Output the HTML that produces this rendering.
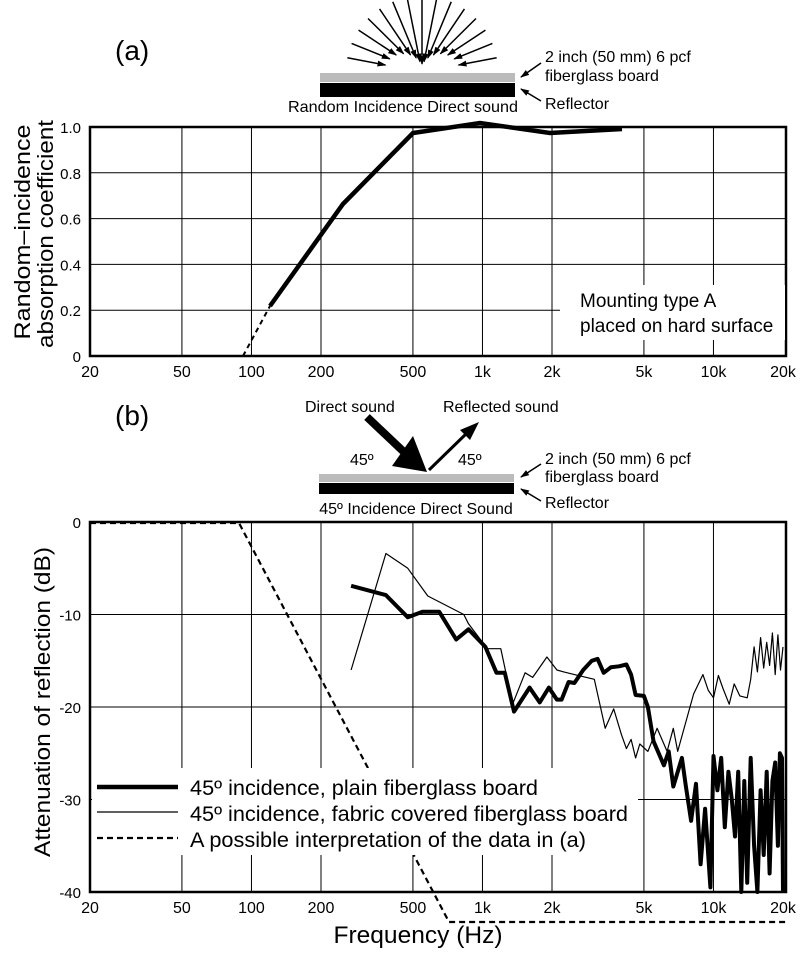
<!DOCTYPE html>
<html><head><meta charset="utf-8"><style>
body{margin:0;background:#fff}
svg{font-family:"Liberation Sans",Arial,sans-serif}
</style></head><body>
<svg id="s" width="800" height="953" viewBox="0 0 800 953" xmlns="http://www.w3.org/2000/svg">
<defs><marker id="ah" markerWidth="9" markerHeight="8" refX="8" refY="4" orient="auto" markerUnits="userSpaceOnUse"><path d="M0,1 L9,4 L0,7 Z" fill="#000"/></marker></defs>
<g id="g"></g>
<text x="115" y="60" font-size="28">(a)</text>
<text x="115" y="425" font-size="28">(b)</text>
<rect x="320" y="73" width="195" height="9" fill="#bbb"/>
<rect x="320" y="83" width="195" height="14" fill="#000"/>
<text x="288" y="112" font-size="16" textLength="230" lengthAdjust="spacingAndGlyphs">Random Incidence Direct sound</text>
<text x="545" y="62" font-size="16">2 inch (50 mm) 6 pcf</text>
<text x="545" y="81" font-size="16">fiberglass board</text>
<text x="545" y="109" font-size="16">Reflector</text>
<line x1="541" y1="63" x2="521" y2="77" stroke="#000" stroke-width="1.5" marker-end="url(#ah)"/>
<line x1="541" y1="101" x2="521" y2="89" stroke="#000" stroke-width="1.5" marker-end="url(#ah)"/>
<g id="rays"></g>
<text transform="translate(30,232) rotate(-90)" font-size="22" text-anchor="middle" textLength="215" lengthAdjust="spacingAndGlyphs">Random–incidence</text>
<text transform="translate(53,234) rotate(-90)" font-size="22" text-anchor="middle" textLength="228" lengthAdjust="spacingAndGlyphs">absorption coefficient</text>
<text x="580" y="307" font-size="19">Mounting type A</text>
<text x="580" y="332" font-size="19">placed on hard surface</text>
<rect x="319" y="474" width="195" height="8" fill="#bbb"/>
<rect x="319" y="483" width="195" height="11" fill="#000"/>
<text x="416" y="514" font-size="16" text-anchor="middle">45º Incidence Direct Sound</text>
<text x="305" y="412" font-size="16">Direct sound</text>
<text x="443" y="412" font-size="16">Reflected sound</text>
<text x="350" y="465" font-size="16">45º</text>
<text x="458" y="465" font-size="16">45º</text>
<line x1="367" y1="417" x2="405" y2="453" stroke="#000" stroke-width="8"/>
<path d="M392,466 L427,472 L413,436 Z" fill="#000"/>
<line x1="429" y1="470" x2="468" y2="432" stroke="#000" stroke-width="3"/>
<path d="M479,422 L460,430 L470,440 Z" fill="#000"/>
<text x="545" y="464" font-size="16">2 inch (50 mm) 6 pcf</text>
<text x="545" y="482" font-size="16">fiberglass board</text>
<text x="545" y="508" font-size="16">Reflector</text>
<line x1="541" y1="464" x2="521" y2="477" stroke="#000" stroke-width="1.5" marker-end="url(#ah)"/>
<line x1="541" y1="501" x2="521" y2="489" stroke="#000" stroke-width="1.5" marker-end="url(#ah)"/>
<text transform="translate(50,702) rotate(-90)" font-size="22" text-anchor="middle" textLength="310" lengthAdjust="spacingAndGlyphs">Attenuation of reflection (dB)</text>
<text x="418" y="943" font-size="24" text-anchor="middle" textLength="169" lengthAdjust="spacingAndGlyphs">Frequency (Hz)</text>
</svg>
<script>
var NS="http://www.w3.org/2000/svg",g=document.getElementById('g');
function el(t,a,p){var e=document.createElementNS(NS,t);for(var k in a)e.setAttribute(k,a[k]);(p||g).appendChild(e);return e;}
function X(f){return 90+231*Math.log10(f/20);}
var ticks=[[20,'20'],[50,'50'],[100,'100'],[200,'200'],[500,'500'],[1000,'1k'],[2000,'2k'],[5000,'5k'],[10000,'10k'],[20000,'20k']];
var aT=127,aB=356,R=786;
function Ya(v){return aB-(aB-aT)*v;}
for(var i=1;i<9;i++){var x=X(ticks[i][0]);el('line',{x1:x,y1:aT,x2:x,y2:aB,stroke:'#000','stroke-width':1});}
for(var v=0.2;v<1;v+=0.2){el('line',{x1:90,y1:Ya(v),x2:R,y2:Ya(v),stroke:'#000','stroke-width':1});}
['0','0.2','0.4','0.6','0.8','1.0'].forEach(function(s,i){el('text',{x:81,y:Ya(i*0.2)+6,'font-size':15,'text-anchor':'end'}).textContent=s;});
el('rect',{x:90,y:aT,width:R-90,height:aB-aT,fill:'none',stroke:'#000','stroke-width':2.5});
ticks.forEach(function(t){el('text',{x:X(t[0]),y:aB+21,'font-size':16,'text-anchor':'middle'}).textContent=t[1];});
el('rect',{x:560,y:285,width:225,height:55,fill:'#fff'});
el('polyline',{points:'243,356 270,306',fill:'none',stroke:'#000','stroke-width':2,'stroke-dasharray':'5,4'});
el('polyline',{points:'270,306 343,204 413,133 480,123 550,133 622,129',fill:'none',stroke:'#000','stroke-width':4.5});
var rays=document.getElementById('rays');
for(var k=0;k<15;k++){var a=Math.PI*(0.06+0.88*k/14);var cx=422,cy=72,r1=76;
 var r2=8+30*Math.pow(Math.abs(Math.cos(a)),1.5);
 var sx=cx-r1*Math.cos(a),sy=cy-r1*Math.sin(a),ex=cx-r2*Math.cos(a),ey=cy-r2*Math.sin(a);
 el('line',{x1:sx,y1:sy,x2:ex,y2:ey,stroke:'#000','stroke-width':1.5,'marker-end':'url(#ah)'},rays);}
var bT=522,bB=892;
function Yb(d){return bT-(bB-bT)*d/40;}
for(var i=1;i<9;i++){var x=X(ticks[i][0]);el('line',{x1:x,y1:bT,x2:x,y2:bB,stroke:'#000','stroke-width':1});}
[-10,-20,-30].forEach(function(d){el('line',{x1:90,y1:Yb(d),x2:R,y2:Yb(d),stroke:'#000','stroke-width':1});});
['0','-10','-20','-30','-40'].forEach(function(s,i){el('text',{x:81,y:Yb(-10*i)+6,'font-size':15,'text-anchor':'end'}).textContent=s;});
ticks.forEach(function(t){el('text',{x:X(t[0]),y:bB+21,'font-size':16,'text-anchor':'middle'}).textContent=t[1];});
function path(d,w){var p=d.map(function(q){return X(q[0]).toFixed(1)+','+Yb(q[1]).toFixed(1);}).join(' ');el('polyline',{points:p,fill:'none',stroke:'#000','stroke-width':w,'stroke-linejoin':'round'});}
var thin=[[270,-16],[382,-3.4],[475,-5],[580,-8],[830,-10],[870,-11],[1050,-13.7],[1200,-13.7],[1350,-19.7],[1530,-16.3],[1650,-16.8],[1900,-14.6],[2100,-16],[2250,-16.2],[2500,-16.5],[3050,-17],[3400,-22.3],[3700,-20.2],[4000,-23],[4200,-24.5],[4400,-23.5],[4600,-25.5],[4800,-24],[5200,-24.8],[5700,-22.3],[6300,-24.8],[6700,-22.3],[7000,-24.8],[8200,-18.6],[9000,-16.5],[9500,-18.2],[10000,-19],[10500,-16.6],[11000,-18],[11700,-19.7],[12300,-17.5],[13000,-18.8],[14000,-19],[14500,-17],[15000,-13.5],[15500,-16.2],[16000,-12.5],[16500,-15.8],[17000,-13],[17500,-15.5],[18000,-12],[18500,-16.5],[19000,-12.2],[19500,-16],[20000,-13.5]];
var thick=[[270,-6.9],[382,-7.9],[475,-10.3],[550,-9.7],[650,-9.7],[770,-12.7],[870,-11.6],[1030,-13.5],[1150,-16.3],[1250,-16.3],[1370,-20.5],[1600,-17.9],[1770,-19.5],[1940,-17.9],[2100,-19.2],[2200,-19.2],[2360,-17.3],[2500,-17.4],[2730,-16],[2970,-15],[3150,-14.8],[3350,-16.3],[3600,-15.7],[3900,-15.6],[4200,-15.4],[4400,-16.5],[4600,-18.7],[5000,-18.8],[5200,-20],[5500,-23.7],[6100,-26.3],[6400,-24.8],[6700,-28.6],[7300,-25.5],[7600,-28.6],[8000,-32.3],[8400,-28.3],[8800,-37],[9200,-31],[9700,-39.5],[10000,-25.3],[10400,-29],[10800,-25.5],[11200,-33],[11600,-27],[12000,-30],[12400,-34],[12800,-27],[13200,-40],[13600,-28],[14000,-39],[14500,-25.5],[15000,-35],[15500,-40],[16000,-29],[16500,-36],[17000,-27],[17500,-38],[18000,-28],[18500,-26],[19000,-35],[19400,-25],[19800,-25.5],[20000,-40]];
path(thin,1.2);path(thick,4);
el('polyline',{points:'90,523 239,523 449,922 787,922',fill:'none',stroke:'#000','stroke-width':2.2,'stroke-dasharray':'6,4'});
el('rect',{x:92,y:768,width:546,height:87,fill:'#fff'});
el('rect',{x:90,y:bT,width:R-90,height:bB-bT,fill:'none',stroke:'#000','stroke-width':2.5});
el('line',{x1:97,y1:787,x2:178,y2:787,stroke:'#000','stroke-width':4.5});
el('line',{x1:97,y1:812,x2:178,y2:812,stroke:'#000','stroke-width':1.2});
el('line',{x1:97,y1:838,x2:178,y2:838,stroke:'#000','stroke-width':2.2,'stroke-dasharray':'6,4'});
var L=[['45º incidence, plain fiberglass board',348],['45º incidence, fabric covered fiberglass board',438],['A possible interpretation of the data in (a)',396]];
L.forEach(function(s,i){el('text',{x:190,y:795+26*i,'font-size':21,textLength:s[1],lengthAdjust:'spacingAndGlyphs'}).textContent=s[0];});
</script>
</body></html>
